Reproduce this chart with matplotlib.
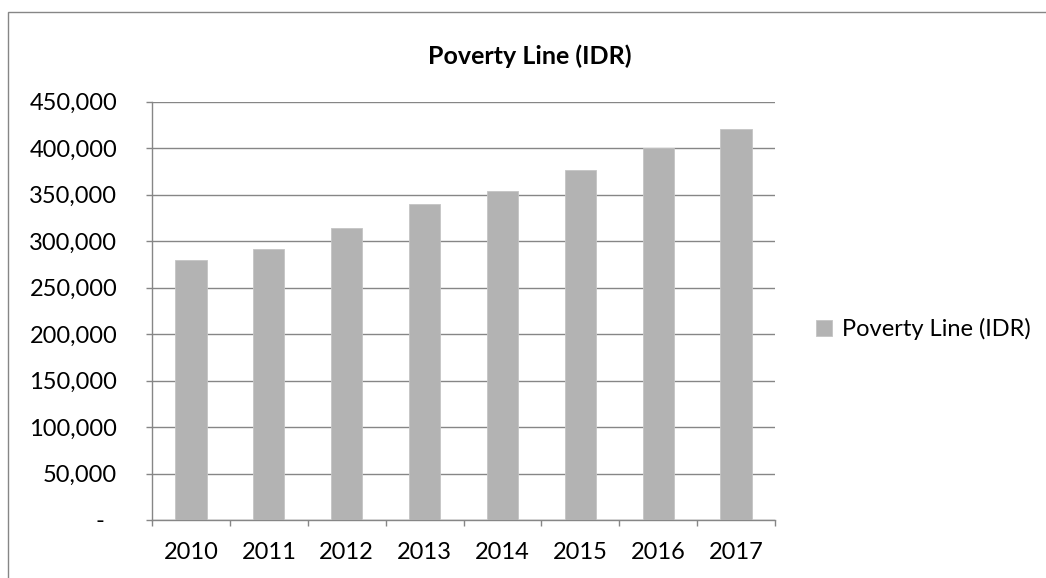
import matplotlib.pyplot as plt
import matplotlib.patches as patches
from matplotlib.ticker import FuncFormatter, MultipleLocator

# poverty line per year (IDR)
years = ["2010", "2011", "2012", "2013", "2014", "2015", "2016", "2017"]
poverty_line = [279500, 291500, 314000, 340300, 353300, 375900, 400000, 420600]

plt.rcParams['font.family'] = ['Lato', 'DejaVu Sans']
grid_col = '#868686'
bar_col = '#b3b3b3'

fig = plt.figure(figsize=(10.46, 5.78), dpi=100)
ax = fig.add_axes([152/1046, 1 - 520/578, 623/1046, 418.5/578])

x = range(len(years))
ax.bar(x, poverty_line, width=0.4, color=bar_col, edgecolor='#c4c4c4',
       linewidth=0.6, label="Poverty Line (IDR)", zorder=3)

ax.set_xlim(-0.5, len(years) - 0.5)
ax.set_ylim(0, 450000)
ax.yaxis.set_major_locator(MultipleLocator(50000))
ax.yaxis.set_major_formatter(FuncFormatter(lambda v, p: "-  " if v == 0 else f"{v:,.0f}"))
ax.grid(axis='y', color=grid_col, linewidth=1.0, zorder=0)

# year labels in the middle, tick marks between categories
ax.set_xticks(list(x))
ax.set_xticklabels(years)
ax.set_xticks([i - 0.5 for i in range(len(years) + 1)], minor=True)
ax.tick_params(axis='x', which='major', length=0, pad=16, labelsize=17)
ax.tick_params(axis='x', which='minor', length=4, color=grid_col, width=1)
ax.tick_params(axis='y', length=4, color=grid_col, width=1, pad=21, labelsize=17)

for s in ['top', 'right']:
    ax.spines[s].set_visible(False)
for s in ['left', 'bottom']:
    ax.spines[s].set_color(grid_col)
    ax.spines[s].set_linewidth(1)

fig.text(530/1046, 1 - 56/578, "Poverty Line (IDR)", ha='center', va='center',
         fontsize=18, fontweight='bold')

ax.legend(loc='center left', bbox_to_anchor=(795/1046, 1 - 329/578),
          bbox_transform=fig.transFigure, frameon=False, fontsize=17,
          handlelength=0.65, handleheight=0.65, handletextpad=0.45)

# outer chart border
fig.patches.append(patches.Rectangle((8/1046, -0.05), 1.1, 1 - 12/578 + 0.05,
                                     transform=fig.transFigure, fill=False,
                                     edgecolor=grid_col, linewidth=1))

fig.savefig("out.png", dpi=100)
